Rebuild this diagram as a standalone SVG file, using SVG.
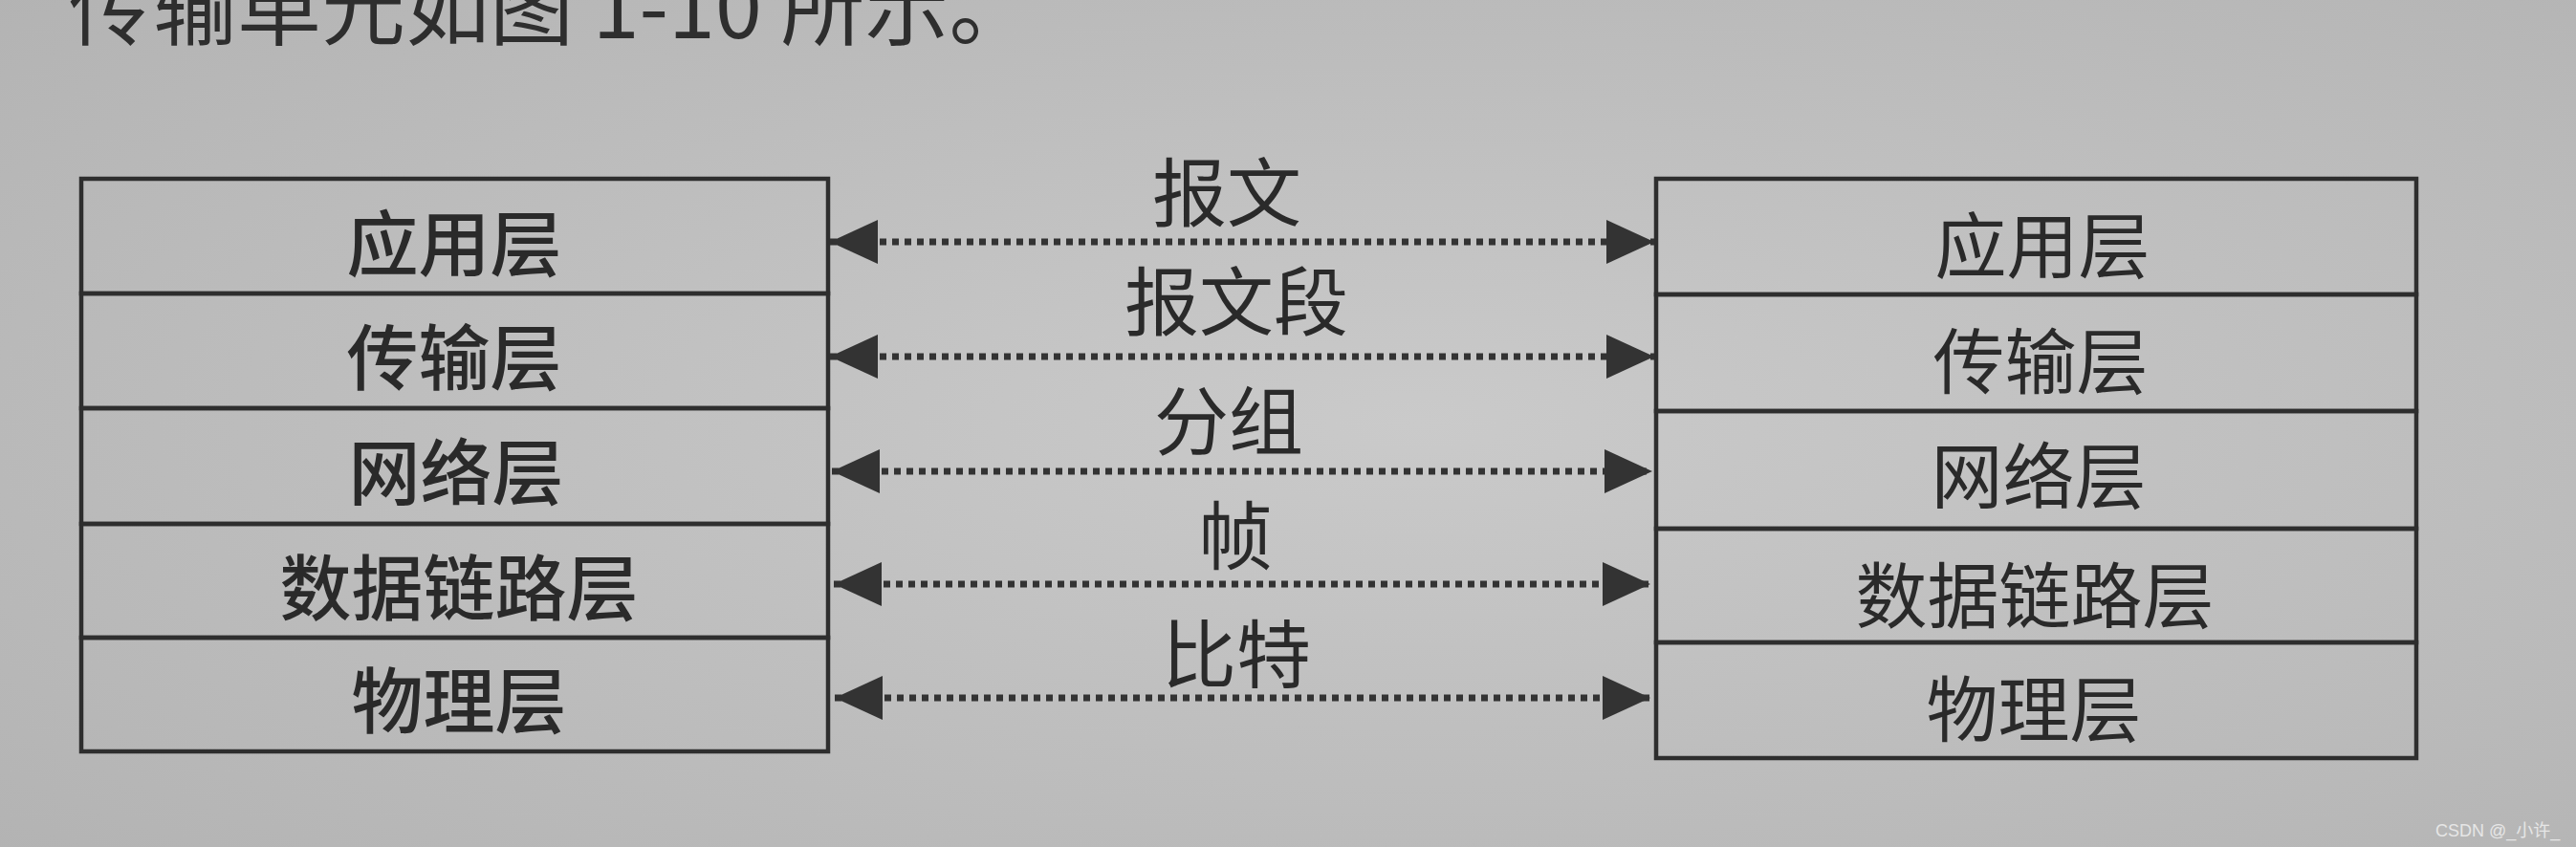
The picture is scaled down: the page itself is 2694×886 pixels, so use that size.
<svg xmlns="http://www.w3.org/2000/svg" width="2694" height="886" viewBox="0 0 2694 886">
<style>
.bg{fill:url(#paper)}
.cell{fill:none;stroke:#2e2e2e;stroke-width:4.5}
.t{font-family:"Noto Sans CJK SC","Noto Sans",sans-serif;fill:#2a2a2a;text-anchor:middle}
.layer{font-size:75px}
.bold{font-weight:500}
.lbl{font-size:78px}
.top{font-family:"Noto Sans CJK SC","Noto Sans",sans-serif;fill:#2e2e2e;font-size:88px}
.wire{stroke:#333;stroke-width:7;stroke-dasharray:7 6;fill:none;marker-start:url(#ah);marker-end:url(#ah)}
.wm{font-family:"Liberation Sans","Noto Sans CJK SC",sans-serif;font-size:18px;fill:#e6e6e6}
</style>
<defs>
<radialGradient id="paper" cx="0.55" cy="0.5" r="0.75">
<stop offset="0" stop-color="#cacaca"/>
<stop offset="1" stop-color="#b3b3b3"/>
</radialGradient>
<marker id="ah" markerUnits="userSpaceOnUse" markerWidth="50" markerHeight="46" refX="50" refY="23" orient="auto-start-reverse">
<path d="M0,0 L50,23 L0,46 Z" fill="#333"/>
</marker>
</defs>
<rect class="bg" x="0" y="0" width="2694" height="886"/>
<text class="top" x="72" y="40">传输单元如图 1-10 所示。</text>

<g id="left-stack">
<g id="L-app"><rect class="cell" x="85" y="187" width="781" height="120"/><text class="t layer bold" x="475" y="283">应用层</text></g>
<g id="L-trans"><rect class="cell" x="85" y="307" width="781" height="120"/><text class="t layer bold" x="475" y="402">传输层</text></g>
<g id="L-net"><rect class="cell" x="85" y="427" width="781" height="121"/><text class="t layer bold" x="477" y="522">网络层</text></g>
<g id="L-link"><rect class="cell" x="85" y="548" width="781" height="119"/><text class="t layer bold" x="480" y="643">数据链路层</text></g>
<g id="L-phy"><rect class="cell" x="85" y="667" width="781" height="119"/><text class="t layer bold" x="480" y="761">物理层</text></g>
</g>

<g id="right-stack">
<g id="R-app"><rect class="cell" x="1732" y="187" width="795" height="121"/><text class="t layer" x="2136" y="285">应用层</text></g>
<g id="R-trans"><rect class="cell" x="1732" y="308" width="795" height="122"/><text class="t layer" x="2134" y="406">传输层</text></g>
<g id="R-net"><rect class="cell" x="1732" y="430" width="795" height="123"/><text class="t layer" x="2132" y="526">网络层</text></g>
<g id="R-link"><rect class="cell" x="1732" y="553" width="795" height="119"/><text class="t layer" x="2128" y="651">数据链路层</text></g>
<g id="R-phy"><rect class="cell" x="1732" y="672" width="795" height="121"/><text class="t layer" x="2127" y="770">物理层</text></g>
</g>

<g id="connectors">
<line class="wire" x1="868" y1="253" x2="1730" y2="253"/>
<line class="wire" x1="868" y1="373" x2="1730" y2="373"/>
<line class="wire" x1="870" y1="493" x2="1728" y2="493"/>
<line class="wire" x1="872" y1="611" x2="1726" y2="611"/>
<line class="wire" x1="873" y1="730" x2="1726" y2="730"/>
<text class="t lbl" x="1283" y="231">报文</text>
<text class="t lbl" x="1293" y="345">报文段</text>
<text class="t lbl" x="1285" y="470">分组</text>
<text class="t lbl" x="1292" y="590">帧</text>
<text class="t lbl" x="1293" y="714">比特</text>
</g>

<text class="wm" x="2547" y="875">CSDN @_小许_</text>
</svg>
